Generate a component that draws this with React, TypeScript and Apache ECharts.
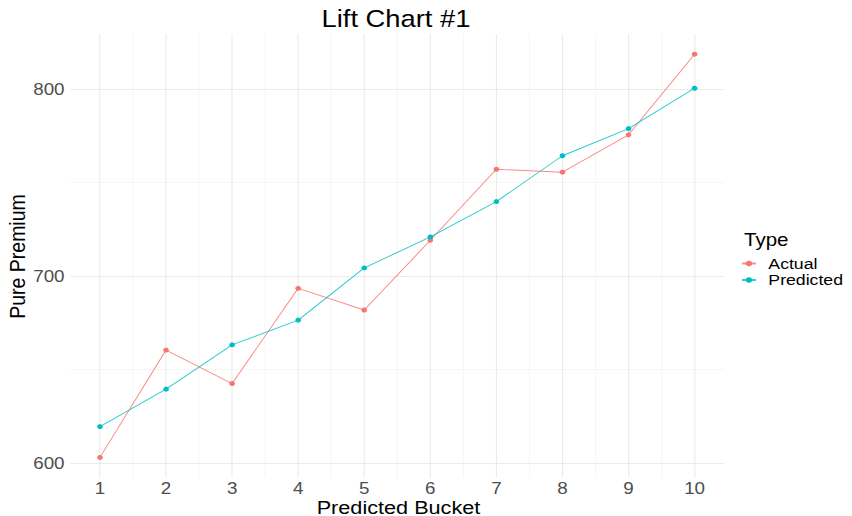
import React, { useEffect, useRef } from "react";
import * as echarts from "echarts";

const buckets = [1, 2, 3, 4, 5, 6, 7, 8, 9, 10];
const actual = [603.0, 660.4, 642.5, 693.4, 681.8, 719.1, 757.1, 755.5, 775.5, 818.6];
const predicted = [619.5, 639.5, 663.2, 676.4, 704.3, 720.9, 739.8, 764.3, 778.8, 800.4];
const yMajor = [600, 700, 800];
const yMinor = [650, 750];
const xMinor = [1.5, 2.5, 3.5, 4.5, 5.5, 6.5, 7.5, 8.5, 9.5];

const RED = "#F8766D";
const CYAN = "#00BFC4";
const SX = 1.14;
const W = 852 / SX;
const H = 516;

export default function App() {
  const ref = useRef<HTMLDivElement>(null);
  useEffect(() => {
    const chart = echarts.init(ref.current!, null, { renderer: "svg" });
    const font = "'Liberation Sans', Arial, sans-serif";
    const major = { color: "#ebebeb", width: 1, type: "solid" };
    const minor = { color: "#f2f2f2", width: 0.7, type: "solid" };
    const gridLines = [
      ...buckets.map((v) => ({ xAxis: v, lineStyle: major })),
      ...xMinor.map((v) => ({ xAxis: v, lineStyle: minor })),
      ...yMajor.map((v) => ({ yAxis: v, lineStyle: major })),
      ...yMinor.map((v) => ({ yAxis: v, lineStyle: minor })),
    ];
    chart.setOption({
      animation: false,
      backgroundColor: "#ffffff",
      textStyle: { fontFamily: font },
      graphic: [
        {
          type: "text",
          x: 396 / SX,
          y: 19,
          style: {
            text: "Lift Chart #1",
            fontSize: 24,
            fontFamily: font,
            fill: "#000",
            textAlign: "center",
            textVerticalAlign: "middle",
          },
        },
        {
          type: "text",
          x: 398.5 / SX,
          y: 507,
          style: {
            text: "Predicted Bucket",
            fontSize: 19,
            fontFamily: font,
            fill: "#000",
            textAlign: "center",
            textVerticalAlign: "middle",
          },
        },
        {
          type: "text",
          x: 17 / SX,
          y: 256.5,
          rotation: Math.PI / 2,
          style: {
            text: "Pure Premium",
            fontSize: 19.5,
            fontFamily: font,
            fill: "#000",
            textAlign: "center",
            textVerticalAlign: "middle",
          },
        },
        {
          type: "text",
          x: 744 / SX,
          y: 240,
          style: {
            text: "Type",
            fontSize: 18,
            fontFamily: font,
            fill: "#000",
            textAlign: "left",
            textVerticalAlign: "middle",
          },
        },
      ],
      legend: {
        orient: "vertical",
        left: 741 / SX,
        top: 255.5,
        itemWidth: 12,
        itemHeight: 7,
        itemGap: 0.5,
        padding: 0,
        textStyle: { fontSize: 15.5, lineHeight: 15.5, color: "#000", fontFamily: font, padding: [0, 0, 0, 6] },
        data: ["Actual", "Predicted"],
      },
      grid: { left: 70.25 / SX, right: W - 724.75 / SX, top: 34, bottom: 38.4, containLabel: false },
      xAxis: {
        type: "value",
        min: 0.55,
        max: 10.45,
        axisLine: { show: false },
        axisTick: { show: false },
        splitLine: { show: false },
        axisLabel: {
          customValues: buckets,
          fontSize: 16.5,
          color: "#4d4d4d",
          margin: 2,
          fontFamily: font,
        },
      },
      yAxis: {
        type: "value",
        min: 592.2,
        max: 829.4,
        axisLine: { show: false },
        axisTick: { show: false },
        splitLine: { show: false },
        axisLabel: {
          customValues: yMajor,
          fontSize: 16.5,
          color: "#4d4d4d",
          margin: 5,
          fontFamily: font,
        },
      },
      series: [
        {
          name: "Actual",
          type: "line",
          data: buckets.map((b, i) => [b, actual[i]]),
          symbol: "circle",
          symbolSize: 5,
          itemStyle: { color: RED },
          lineStyle: { color: RED, width: 0.9, opacity: 0.85 },
          z: 3,
          markLine: {
            silent: true,
            symbol: "none",
            label: { show: false },
            emphasis: { disabled: true },
            data: gridLines,
            z: 1,
          },
        },
        {
          name: "Predicted",
          type: "line",
          data: buckets.map((b, i) => [b, predicted[i]]),
          symbol: "circle",
          symbolSize: 5,
          itemStyle: { color: CYAN },
          lineStyle: { color: CYAN, width: 0.9, opacity: 0.85 },
          z: 3,
        },
      ],
    });
    return () => chart.dispose();
  }, []);
  return (
    <div
      ref={ref}
      style={{
        position: "absolute",
        left: 0,
        top: 0,
        width: W,
        height: H,
        transform: `scaleX(${SX})`,
        transformOrigin: "0 0",
      }}
    />
  );
}
